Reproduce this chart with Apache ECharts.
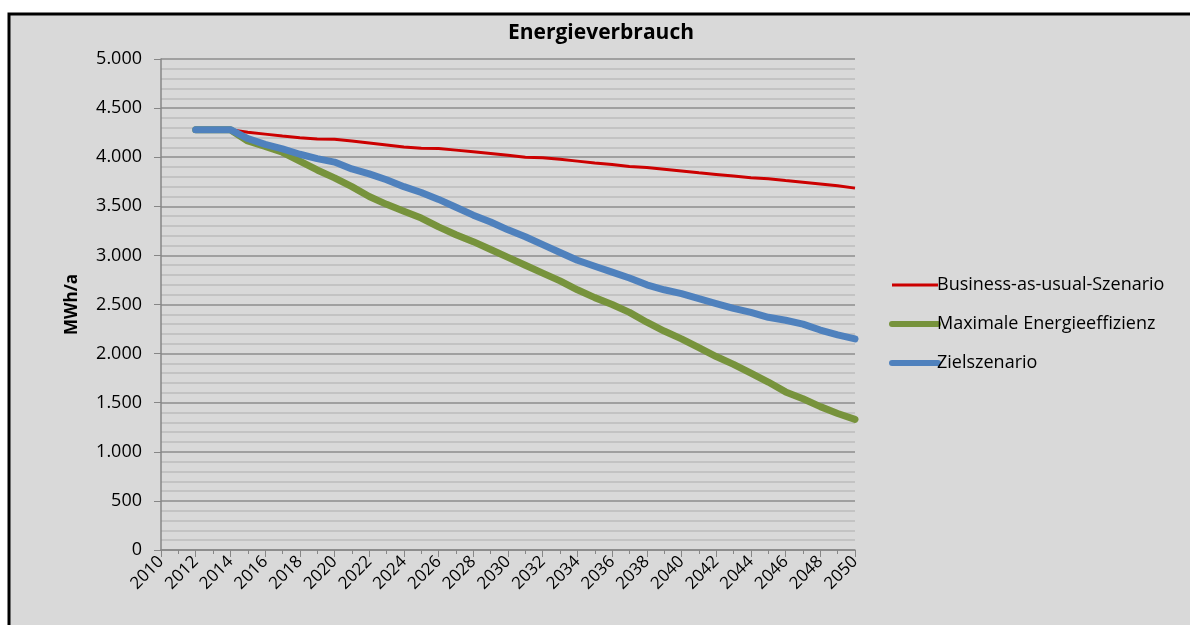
<!DOCTYPE html>
<html>
<head>
<meta charset="utf-8">
<title>Energieverbrauch</title>
<script src="https://cdn.jsdelivr.net/npm/echarts@6/dist/echarts.min.js"></script>
<style>
  html, body { margin: 0; padding: 0; background: #fff; }
  #chart { width: 1190px; height: 625px; }
</style>
</head>
<body>
<div id="chart"></div>
<script>
// years 2012..2050, values in MWh/a
var years = [];
for (var y = 2012; y <= 2050; y++) years.push(y);

var bau = [4280, 4280, 4280, 4255, 4235, 4215, 4198, 4185, 4182, 4165,
           4145, 4125, 4105, 4090, 4088, 4072, 4055, 4038, 4020, 4000,
           3995, 3978, 3960, 3942, 3925, 3905, 3895, 3878, 3860, 3842,
           3825, 3808, 3790, 3780, 3762, 3745, 3728, 3710, 3685];
var maxEff = [4280, 4280, 4280, 4165, 4110, 4050, 3960, 3870, 3790, 3700,
              3600, 3520, 3450, 3380, 3290, 3210, 3140, 3060, 2980, 2900,
              2820, 2740, 2650, 2570, 2500, 2420, 2320, 2230, 2150, 2060,
              1970, 1890, 1800, 1710, 1610, 1540, 1460, 1390, 1330];
var ziel = [4280, 4280, 4280, 4190, 4130, 4085, 4030, 3985, 3950, 3880,
            3830, 3770, 3700, 3640, 3570, 3490, 3410, 3340, 3260, 3190,
            3110, 3030, 2950, 2890, 2830, 2770, 2700, 2650, 2610, 2560,
            2510, 2460, 2420, 2370, 2340, 2300, 2240, 2190, 2150];

function pairs(vals) {
    return vals.map(function (v, i) { return [years[i], v]; });
}

var font = 'Open Sans';

var myChart = echarts.init(document.getElementById('chart'));

myChart.setOption({
    animation: false,
    backgroundColor: '#ffffff',
    graphic: [{
        type: 'rect',
        z: -10,
        shape: { x: 9, y: 14, width: 1200, height: 700 },
        style: { fill: '#d9d9d9', stroke: '#000', lineWidth: 3 }
    }],
    title: {
        text: 'Energieverbrauch',
        left: 503,
        top: 18,
        textStyle: { fontFamily: font, fontSize: 21, fontWeight: 'bold', color: '#000' }
    },
    legend: {
        orient: 'vertical',
        left: 884,
        top: 271,
        itemWidth: 46,
        itemHeight: 14,
        itemGap: 21,
        textStyle: { fontFamily: font, fontSize: 18, color: '#000', padding: [0, 0, 0, -6] },
        data: [
            { name: 'Business-as-usual-Szenario', itemStyle: { opacity: 0 }, lineStyle: { width: 3 } },
            { name: 'Maximale Energieeffizienz', itemStyle: { opacity: 0 }, lineStyle: { width: 6, cap: 'round' } },
            { name: 'Zielszenario', itemStyle: { opacity: 0 }, lineStyle: { width: 6, cap: 'round' } }
        ]
    },
    grid: {
        left: 161,
        right: 335,
        top: 59,
        bottom: 75
    },
    xAxis: {
        type: 'value',
        min: 2010,
        max: 2050,
        interval: 2,
        axisLine: { show: true, lineStyle: { color: '#868686', width: 1.5 } },
        axisTick: { show: true, length: 7, inside: false, lineStyle: { color: '#868686' } },
        minorTick: { show: true, splitNumber: 2, length: 4, lineStyle: { color: '#868686' } },
        splitLine: { show: false },
        axisLabel: {
            rotate: 45,
            margin: 9,
            fontFamily: font,
            fontSize: 17,
            color: '#000',
            formatter: function (v) { return String(v); }
        }
    },
    yAxis: {
        type: 'value',
        min: 0,
        max: 5000,
        interval: 500,
        name: 'MWh/a',
        nameLocation: 'middle',
        nameGap: 80,
        nameTextStyle: { fontFamily: font, fontSize: 17, fontWeight: 'bold', color: '#000' },
        axisLine: { show: true, lineStyle: { color: '#868686', width: 1.5 } },
        axisTick: { show: true, length: 7, lineStyle: { color: '#868686' } },
        minorTick: { show: false, splitNumber: 5 },
        splitLine: { show: true, lineStyle: { color: '#8c8c8c', width: 1.5 } },
        minorSplitLine: { show: true, lineStyle: { color: '#bcbcbc', width: 1.5 } },
        axisLabel: {
            margin: 19,
            fontFamily: font,
            fontSize: 18,
            color: '#000',
            formatter: function (v) {
                return String(v).replace(/\B(?=(\d{3})+(?!\d))/g, '.');
            }
        }
    },
    series: [{
        name: 'Business-as-usual-Szenario',
        type: 'line',
        showSymbol: false,
        symbol: 'none',
        color: '#cc0000',
        lineStyle: { color: '#cc0000', width: 3 },
        data: pairs(bau)
    }, {
        name: 'Maximale Energieeffizienz',
        type: 'line',
        showSymbol: false,
        symbol: 'none',
        color: '#77933c',
        lineStyle: { color: '#77933c', width: 7, cap: 'round' },
        data: pairs(maxEff)
    }, {
        name: 'Zielszenario',
        type: 'line',
        showSymbol: false,
        symbol: 'none',
        color: '#4f81bd',
        lineStyle: { color: '#4f81bd', width: 7, cap: 'round' },
        data: pairs(ziel)
    }]
});
</script>
</body>
</html>
